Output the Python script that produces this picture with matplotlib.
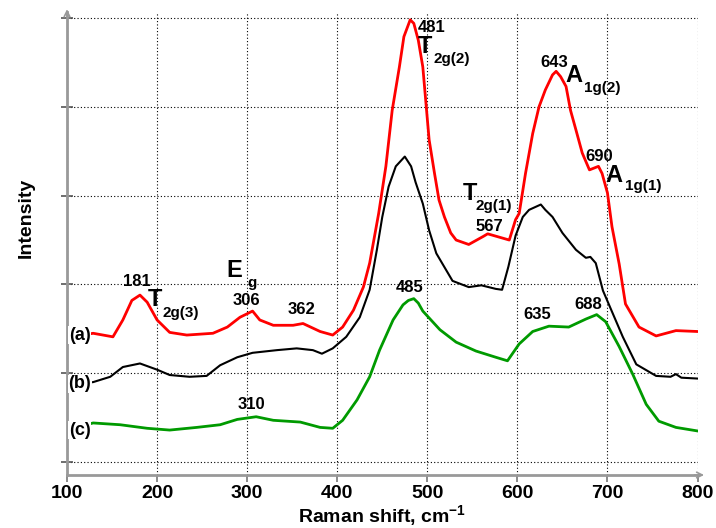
import matplotlib
matplotlib.use("Agg")
import matplotlib.pyplot as plt

plt.rcParams['font.family'] = ['Liberation Sans', 'DejaVu Sans']
plt.rcParams['mathtext.fontset'] = 'custom'
plt.rcParams['mathtext.bf'] = 'Liberation Sans:bold'
plt.rcParams['mathtext.rm'] = 'Liberation Sans:bold'

# spectrum (a) - red
red_x = [100, 129, 151, 162, 172, 181, 189, 200, 214, 233, 262, 278, 292, 306, 314, 329,
         351, 362, 381, 395, 406, 418, 429, 436, 446, 454, 461, 469, 474, 481, 485, 490,
         495, 502, 508, 513, 519, 526, 532, 546, 562, 567, 591, 598, 602, 609, 617, 624,
         631, 639, 643, 648, 654, 659, 665, 672, 680, 690, 694, 700, 705, 713, 720, 735,
         754, 776, 800]
red_y = [1.40, 1.45, 1.41, 1.60, 1.82, 1.88, 1.80, 1.60, 1.46, 1.43, 1.45, 1.52, 1.63, 1.70, 1.60, 1.54,
         1.54, 1.56, 1.47, 1.43, 1.52, 1.71, 1.97, 2.24, 2.80, 3.33, 3.96, 4.45, 4.79, 4.98, 4.94, 4.75,
         4.45, 3.63, 3.25, 2.95, 2.76, 2.58, 2.50, 2.45, 2.54, 2.57, 2.50, 2.73, 2.80, 3.25, 3.70, 4.00,
         4.19, 4.36, 4.40, 4.34, 4.23, 3.96, 3.74, 3.48, 3.29, 3.33, 3.25, 3.03, 2.65, 2.23, 1.78, 1.52,
         1.42, 1.48, 1.47]

# spectrum (b) - black
black_x = [100, 129, 148, 162, 181, 200, 214, 236, 255, 270, 289, 306, 333, 355, 373, 383,
           395, 410, 425, 436, 444, 450, 457, 465, 475, 482, 487, 495, 502, 510, 528, 546,
           560, 576, 583, 590, 598, 606, 613, 626, 631, 639, 650, 665, 676, 681, 687, 695,
           706, 717, 732, 754, 770, 776, 782, 800]
black_y = [0.87, 0.90, 0.96, 1.07, 1.11, 1.04, 0.98, 0.96, 0.97, 1.09, 1.18, 1.23, 1.26, 1.28, 1.26, 1.22,
           1.28, 1.41, 1.63, 1.94, 2.39, 2.76, 3.10, 3.33, 3.44, 3.33, 3.15, 2.91, 2.61, 2.35, 2.04, 1.97,
           1.99, 1.95, 1.94, 2.20, 2.55, 2.76, 2.84, 2.90, 2.84, 2.76, 2.58, 2.39, 2.30, 2.31, 2.24, 1.93,
           1.67, 1.41, 1.10, 0.97, 0.96, 0.99, 0.95, 0.94]

# spectrum (c) - green
green_x = [100, 129, 159, 189, 214, 244, 270, 289, 310, 329, 359, 381, 395, 406, 422, 436,
           447, 462, 473, 479, 485, 490, 495, 514, 532, 554, 576, 589, 602, 617, 635, 657,
           676, 688, 698, 713, 728, 743, 757, 776, 800]
green_y = [0.36, 0.44, 0.42, 0.38, 0.36, 0.39, 0.42, 0.48, 0.51, 0.47, 0.45, 0.39, 0.38, 0.47, 0.70, 0.96,
           1.26, 1.60, 1.77, 1.82, 1.84, 1.79, 1.70, 1.49, 1.35, 1.25, 1.18, 1.14, 1.33, 1.47, 1.53, 1.52,
           1.61, 1.66, 1.58, 1.30, 0.99, 0.65, 0.46, 0.39, 0.35]

# peak positions written above the curves: (text, x, baseline y)
peak_labels = [('181', 162, 1.98), ('306', 284, 1.77), ('362', 345, 1.67),
               ('481', 489, 4.84), ('567', 554, 2.60), ('643', 626, 4.45),
               ('690', 676, 3.39), ('310', 289, 0.60), ('485', 465, 1.91),
               ('635', 607, 1.61), ('688', 663, 1.72)]

# mode symbols: (letter, subscript, x, baseline y, subscript x, subscript baseline y)
modes = [('T', '2g(3)', 190, 1.76, 206, 1.63),
         ('E', 'g', 277, 2.08, 300, 1.97),
         ('T', '2g(2)', 489, 4.61, 507, 4.49),
         ('T', '2g(1)', 539, 2.95, 554, 2.84),
         ('A', '1g(2)', 653, 4.28, 674, 4.17),
         ('A', '1g(1)', 698, 3.15, 720, 3.06)]

curve_tags = [('(a)', 1.43), ('(b)', 0.88), ('(c)', 0.36)]

fig = plt.figure(figsize=(7.16, 5.28), dpi=100)
ax = fig.add_axes([67 / 716, 1 - 475 / 528, 631 / 716, 463 / 528])

ax.plot(red_x, red_y, color='#ff0000', lw=2.0, zorder=2)
ax.plot(black_x, black_y, color='black', lw=1.5, zorder=2)
ax.plot(green_x, green_y, color='#009a00', lw=2.0, zorder=2)

for txt, x, y in peak_labels:
    ax.text(x, y, txt, fontsize=12, fontweight='bold', ha='left', va='baseline', zorder=3)

for big, sub, x, y, sx, sy in modes:
    ax.text(x, y, big, fontsize=17, fontweight='bold', ha='left', va='baseline', zorder=3)
    ax.text(sx, sy, sub, fontsize=11, fontweight='bold', ha='left', va='baseline', zorder=3)

for tag, y in curve_tags:
    ax.text(114, y, tag, fontsize=13, fontweight='bold', ha='center', va='center', zorder=4,
            bbox=dict(facecolor='white', edgecolor='none', pad=0.5))

ax.set_xlim(100, 800.5)
ax.set_ylim(-0.146, 5.068)
ax.set_xticks(range(100, 801, 100))
ax.set_yticks(range(0, 6))
ax.set_yticklabels([])
ax.grid(True, color='black', linestyle=(0, (1, 2)), linewidth=0.8)

for s in ['top', 'right']:
    ax.spines[s].set_visible(False)
for s in ['left', 'bottom']:
    ax.spines[s].set_color('#999999')
    ax.spines[s].set_linewidth(2)

ax.tick_params(axis='x', direction='out', length=5, width=1.2, color='#777777', pad=2, labelsize=14)
ax.tick_params(axis='y', direction='inout', length=8, width=1.2, color='#555555')
for lab in ax.get_xticklabels():
    lab.set_fontweight('bold')

# arrow heads on the axes
ax.annotate('', xy=(0, 1.012), xytext=(0, 0.985), xycoords='axes fraction',
            arrowprops=dict(arrowstyle='->', color='#999999', lw=1.2))
ax.annotate('', xy=(1.014, 0), xytext=(0.99, 0), xycoords='axes fraction',
            arrowprops=dict(arrowstyle='->', color='#999999', lw=1.2))

ax.set_xlabel('Raman shift, cm$^{\\mathbf{-1}}$', fontsize=14, fontweight='bold', labelpad=1)
fig.text(26 / 716, 1 - 218 / 528, 'Intensity', rotation=90, fontsize=14, fontweight='bold',
         ha='center', va='center')

fig.savefig('out.png', dpi=100)
